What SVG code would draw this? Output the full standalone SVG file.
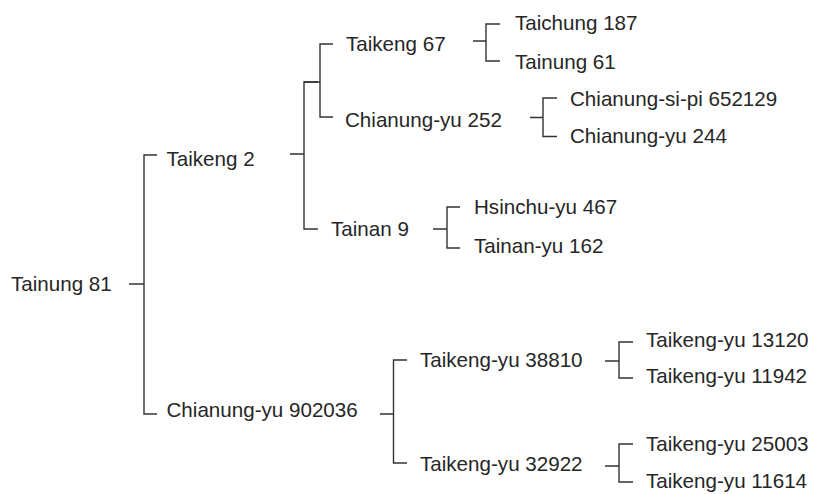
<svg xmlns="http://www.w3.org/2000/svg" width="813" height="494" viewBox="0 0 813 494">
  <style>
    .lbl { font-family: "Liberation Sans", Arial, sans-serif; font-size: 20.6px; fill: #262626; }
    .ln { fill: none; stroke: #333333; stroke-width: 1.4; stroke-linecap: butt; stroke-linejoin: miter; }
  </style>
  <rect width="813" height="494" fill="#ffffff"/>

  <!-- connectors: stub from parent plus elbow bracket to children -->
  <g id="connectors" class="ln">
    <path d="M129,284 H144 M157,155 H144 V414 H157"/>
    <path d="M290,154 H304 M318,82 H304 V229 H318"/>
    <path d="M304,82 H320 M333,44 H320 V117 H333"/>
    <path d="M473,41 H486 M500,24 H486 V61 H500"/>
    <path d="M530,117.5 H543 M557,98 H543 V136.5 H557"/>
    <path d="M433,229 H447 M460,207 H447 V248 H460"/>
    <path d="M380,414 H393.5 M407,360 H393.5 V463 H407"/>
    <path d="M605,361 H619 M633,342 H619 V378 H633"/>
    <path d="M605,466 H619 M633,444 H619 V482 H633"/>
  </g>

  <g id="n-tainung81"><text class="lbl" x="11" y="291">Tainung 81</text></g>
  <g id="n-taikeng2"><text class="lbl" x="166.5" y="165.5">Taikeng 2</text></g>
  <g id="n-taikeng67"><text class="lbl" x="346" y="50.5">Taikeng 67</text></g>
  <g id="n-chianungyu252"><text class="lbl" x="345" y="126.5">Chianung-yu 252</text></g>
  <g id="n-tainan9"><text class="lbl" x="331" y="236">Tainan 9</text></g>
  <g id="n-chianungyu902036"><text class="lbl" x="166.5" y="416.5">Chianung-yu 902036</text></g>
  <g id="n-taichung187"><text class="lbl" x="515" y="30">Taichung 187</text></g>
  <g id="n-tainung61"><text class="lbl" x="515" y="68.5">Tainung 61</text></g>
  <g id="n-chianungsipi652129"><text class="lbl" x="570" y="105.5">Chianung-si-pi 652129</text></g>
  <g id="n-chianungyu244"><text class="lbl" x="570" y="143">Chianung-yu 244</text></g>
  <g id="n-hsinchuyu467"><text class="lbl" x="474" y="214">Hsinchu-yu 467</text></g>
  <g id="n-tainanyu162"><text class="lbl" x="474" y="252.5">Tainan-yu 162</text></g>
  <g id="n-taikengyu38810"><text class="lbl" x="420" y="367">Taikeng-yu 38810</text></g>
  <g id="n-taikengyu32922"><text class="lbl" x="420" y="471">Taikeng-yu 32922</text></g>
  <g id="n-taikengyu13120"><text class="lbl" x="646" y="346.5">Taikeng-yu 13120</text></g>
  <g id="n-taikengyu11942"><text class="lbl" x="646" y="382.5">Taikeng-yu 11942</text></g>
  <g id="n-taikengyu25003"><text class="lbl" x="646" y="450.5">Taikeng-yu 25003</text></g>
  <g id="n-taikengyu11614"><text class="lbl" x="646" y="488">Taikeng-yu 11614</text></g>
</svg>
